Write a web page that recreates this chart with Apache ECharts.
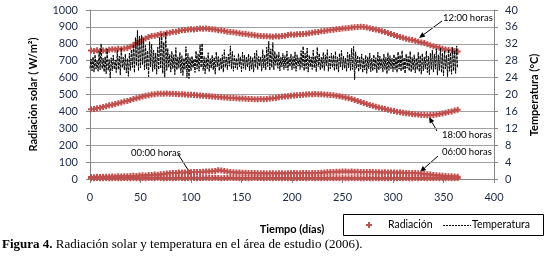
<!DOCTYPE html>
<html>
<head>
<meta charset="utf-8" />
<script src="https://cdn.jsdelivr.net/npm/echarts@6/dist/echarts.min.js"></script>
<title></title>
<style>
    html, body { margin: 0; padding: 0; background: #fff; }
    #main { width: 546px; height: 260px; }
</style>
</head>
<body>
<div id="main"></div>
<script type="text/javascript">
// radiacion (W/m2) leida cada 3 dias, desde el dia 1
var radPaso = 3;
var rad00 = [
    5,4,6,5,5,6,4,5,6,5, 5,6,5,4,6,5,5,6,5,6, 6,5,7,6,5,6,6,5,6,7, 6,5,6,7,6,5,6,6,7,6,
    6,7,6,5,6,6,7,6,6,5, 6,6,5,6,7,6,6,5,6,6, 5,6,6,5,6,5,6,6,5,6, 6,5,6,6,5,6,5,6,5,6,
    5,6,5,6,5,5,6,5,6,5, 5,6,5,5,6,5,6,5,5,6, 5,5,6,5,6,5,5,6,5,6, 6,5,6,5,6,5,6,5,6,5,
    5,6
];
var rad06 = [
    12,11,13,12,14,13,14,15,14,16, 15,17,16,18,19,18,20,22,21,23, 24,26,25,28,30,32,34,35,36,38,
    38,39,40,40,41,42,42,43,44,45, 46,48,52,50,47,44,42,40,39,38, 37,37,36,35,35,34,34,34,33,34,
    34,33,34,34,33,34,34,35,34,34, 35,35,34,35,36,36,37,38,40,41, 42,43,43,44,44,43,44,43,43,42,
    42,41,42,41,40,40,39,40,39,38, 38,37,38,37,36,35,36,35,34,33, 30,28,26,24,22,20,19,18,17,16,
    15,14
];
var rad12 = [
    760,758,762,757,761,759,765,768,766,770, 768,772,775,783,795,803,812,825,832,840,
    846,848,852,858,856,862,866,870,872,876, 880,882,884,886,885,888,890,889,891,888,
    886,884,880,879,876,872,870,868,865,862, 860,858,855,853,850,848,846,845,844,843,
    842,844,843,846,848,852,855,854,856,857, 858,860,863,866,868,870,874,876,879,881,
    883,886,888,890,892,894,896,898,900,901, 899,896,892,888,884,880,875,870,864,858,
    852,846,840,836,830,826,822,818,812,808, 804,798,792,786,781,776,771,767,764,762,
    758,754
];
var rad18 = [
    412,414,418,422,426,430,436,440,444,448, 452,458,462,468,474,478,482,488,492,496,
    500,502,504,505,504,506,505,504,503,502, 501,500,499,498,497,496,494,493,491,490,
    488,487,485,484,482,481,480,479,478,477, 476,475,474,473,472,472,473,472,474,476,
    478,480,483,486,488,490,492,494,496,497, 498,500,501,502,503,502,501,500,499,497,
    495,492,489,486,482,478,473,468,462,456, 450,444,438,433,428,423,418,414,410,406,
    402,398,395,392,389,387,385,383,381,379, 378,377,378,379,381,384,388,392,396,400,
    406,410
];
// temperatura (°C), un valor por dia desde el dia 0
var temperatura = [
    26.2,28.4,25.6,28.9,25.3,29.4,26.0,28.1,25.5,30.2,25.8,32.0,26.1,28.6,25.4,29.0,24.9,30.8,25.7,28.3,
    23.9,28.7,25.6,29.3,26.0,28.2,25.2,30.5,25.9,29.1,24.6,31.0,26.3,28.8,25.8,29.6,25.1,28.5,24.3,29.8,
    25.7,30.6,26.4,31.8,25.2,33.5,26.8,35.2,25.6,33.8,26.3,34.0,27.0,33.2,25.8,31.6,26.1,30.4,24.2,32.5,
    26.5,31.9,25.4,30.5,26.0,29.8,24.8,31.2,25.9,33.6,26.2,34.2,25.0,32.4,24.1,34.8,25.7,30.9,26.4,29.5,
    25.3,30.2,26.1,29.4,24.7,31.1,25.8,28.9,26.2,30.0,25.1,29.2,24.5,28.6,25.9,31.3,24.0,29.7,23.8,28.8,
    25.6,29.1,26.3,28.4,25.2,30.3,26.0,29.6,25.5,31.8,26.4,32.1,25.7,29.0,24.9,28.7,26.1,29.9,25.4,28.5,
    26.2,29.3,25.8,28.8,24.8,30.1,26.5,29.0,25.6,28.6,26.0,29.4,25.3,30.6,26.4,28.9,25.9,29.5,26.7,31.5,
    26.1,30.2,25.5,29.2,26.3,28.6,25.8,29.7,26.6,28.9,25.4,30.0,26.2,29.3,25.9,28.8,26.5,29.6,25.6,29.1,
    26.0,28.7,25.3,29.8,26.4,30.4,25.9,29.0,26.7,28.9,25.5,30.6,26.3,29.4,25.8,31.2,26.6,32.6,25.7,30.8,
    26.4,32.3,25.8,30.2,26.9,29.5,26.2,30.0,25.6,28.9,26.5,29.7,25.9,29.2,26.3,30.3,25.7,28.8,26.6,29.6,
    25.8,29.0,26.2,30.1,25.5,29.4,26.7,28.7,25.9,30.4,26.4,31.4,25.6,29.8,26.1,31.0,25.3,29.3,26.5,28.9,
    25.9,30.5,26.3,29.1,25.4,31.2,26.6,29.7,25.8,28.8,26.2,30.0,25.7,29.4,26.8,30.6,25.5,29.0,26.1,29.8,
    26.4,29.3,25.6,30.2,26.0,28.9,25.3,29.7,26.5,30.4,25.8,29.1,26.2,28.6,25.5,30.0,26.3,29.5,25.7,30.9,
    25.9,31.4,23.5,30.1,26.2,29.2,25.4,28.8,26.0,29.6,25.2,28.5,25.8,29.3,25.0,28.9,26.1,29.8,25.4,28.6,
    25.6,29.4,26.0,28.7,25.1,30.0,25.8,29.1,26.2,28.5,25.3,29.6,25.9,28.8,24.9,29.9,25.7,29.2,26.1,28.6,
    25.4,29.5,25.9,28.9,25.2,30.1,26.0,29.3,25.5,30.4,25.8,28.7,25.0,29.6,26.2,29.0,25.6,30.2,25.3,28.8,
    25.8,29.4,25.1,28.6,25.9,30.0,25.4,29.2,24.8,29.7,25.6,28.9,26.1,30.3,25.2,29.1,24.7,29.8,25.9,30.5,
    25.3,29.6,26.0,30.8,24.6,29.4,25.7,31.0,25.2,29.8,24.4,30.4,26.1,29.3,24.2,30.6,25.5,29.9,24.8,31.2,
    25.6,30.3,25.0,31.5,26.2
];
var etiquetas = [
    { texto: '12:00 horas', x: 443, y: 18, desde: [442, 21], hasta: [419, 38] },
    { texto: '18:00 horas', x: 442, y: 135, desde: [437, 131], hasta: [429, 117] },
    { texto: '06:00 horas', x: 442, y: 152, desde: [438, 156], hasta: [420, 172] },
    { texto: '00:00 horas', x: 131, y: 153, desde: [178, 154], hasta: [192, 176] }
];

var rojo = '#C0504D';
var cruz = 'path://M2,0H4V2H6V4H4V6H2V4H0V2H2Z';
var fuente = 'Lato, "Open Sans", sans-serif';

function radPares(valores) {
    var d = [];
    for (var i = 0; i < valores.length; i++) {
        d.push([1 + i * radPaso, valores[i]]);
    }
    return d;
}
function tempPares() {
    var d = [];
    for (var i = 0; i < temperatura.length; i++) {
        d.push([i, temperatura[i]]);
    }
    return d;
}
function serieRad(valores) {
    return {
        name: 'Radiación',
        type: 'scatter',
        symbol: cruz,
        symbolSize: 6,
        itemStyle: { color: rojo, opacity: 1 },
        data: radPares(valores)
    };
}
// flecha de anotacion: linea + punta
function flecha(a, b) {
    var ang = Math.atan2(b[1] - a[1], b[0] - a[0]);
    var L = 6, W = 2.6;
    var bx = b[0] - L * Math.cos(ang), by = b[1] - L * Math.sin(ang);
    return [
        { type: 'line', silent: true, shape: { x1: a[0], y1: a[1], x2: bx, y2: by }, style: { stroke: '#000', lineWidth: 1 } },
        { type: 'polygon', silent: true, shape: { points: [[b[0], b[1]], [bx + W * Math.sin(ang), by - W * Math.cos(ang)], [bx - W * Math.sin(ang), by + W * Math.cos(ang)]] }, style: { fill: '#000' } }
    ];
}

var graficos = [];
for (var k = 0; k < etiquetas.length; k++) {
    var e = etiquetas[k];
    graficos.push({ type: 'text', silent: true, x: e.x, y: e.y, style: { text: e.texto, font: '9.5px ' + fuente, fill: '#000', verticalAlign: 'middle' } });
    graficos = graficos.concat(flecha(e.desde, e.hasta));
}
// leyenda dibujada a mano (caja, cruz, linea discontinua)
graficos.push(
    { type: 'rect', silent: true, shape: { x: 343.5, y: 214.5, width: 200, height: 21 }, style: { fill: '#fff', stroke: '#000', lineWidth: 1 } },
    { type: 'polygon', silent: true, shape: { points: [[368,222],[370,222],[370,224],[372,224],[372,226],[370,226],[370,228],[368,228],[368,226],[366,226],[366,224],[368,224]] }, style: { fill: rojo } },
    { type: 'text', silent: true, x: 388, y: 225, style: { text: 'Radiación', font: '10.5px ' + fuente, fill: '#000', verticalAlign: 'middle' } },
    { type: 'line', silent: true, shape: { x1: 443, y1: 225.5, x2: 471, y2: 225.5 }, style: { stroke: '#000', lineWidth: 1, lineDash: [2, 1] } },
    { type: 'text', silent: true, x: 472, y: 225, style: { text: 'Temperatura', font: '10.5px ' + fuente, fill: '#000', verticalAlign: 'middle' } }
);
// titulo del eje derecho, leido de abajo hacia arriba
graficos.push({
    type: 'text', silent: true, x: 534, y: 95, rotation: Math.PI / 2,
    style: { text: 'Temperatura (°C)', font: 'bold 11px ' + fuente, fill: '#000', align: 'center', verticalAlign: 'middle' }
});
graficos.push({
    type: 'text', silent: true, x: 2, y: 245,
    style: {
        text: '{b|Figura 4.} Radiación solar y temperatura en el área de estudio (2006).',
        font: '13px "Liberation Serif", serif', fill: '#000', verticalAlign: 'middle',
        rich: { b: { fontWeight: 'bold', fontSize: 13, fontFamily: '"Liberation Serif", serif' } }
    }
});

var ejeGris = '#868686';
var etiqueta = { fontFamily: fuente, fontSize: 11, color: '#1d2a44' };
var titulo = { fontFamily: fuente, fontSize: 11, fontWeight: 'bold', color: '#000' };
function sinComa(v) { return String(v); }

var myChart = echarts.init(document.getElementById('main'));
var option = {
    animation: false,
    grid: { left: 90, right: 52, top: 10, bottom: 81 },
    xAxis: {
        type: 'value', min: 0, max: 400, interval: 50,
        name: 'Tiempo (días)', nameLocation: 'middle', nameGap: 45, nameTextStyle: titulo,
        axisLine: { lineStyle: { color: ejeGris } },
        axisTick: { show: true, length: 4, lineStyle: { color: ejeGris } },
        splitLine: { show: false },
        axisLabel: Object.assign({ margin: 13, formatter: sinComa }, etiqueta)
    },
    yAxis: [
        {
            type: 'value', min: 0, max: 1000, interval: 100,
            name: 'Radiación solar ( W/m²)', nameLocation: 'middle', nameGap: 51, nameRotate: 90, nameTextStyle: titulo,
            axisLine: { show: true, lineStyle: { color: ejeGris } },
            axisTick: { show: true, length: 4, lineStyle: { color: ejeGris } },
            splitLine: { show: true, lineStyle: { color: '#a0a0a0', width: 1 } },
            axisLabel: Object.assign({ margin: 12, formatter: sinComa }, etiqueta)
        },
        {
            type: 'value', min: 0, max: 40, interval: 4, position: 'right',
            axisLine: { show: true, lineStyle: { color: ejeGris } },
            axisTick: { show: true, length: 4, lineStyle: { color: ejeGris } },
            splitLine: { show: false },
            axisLabel: Object.assign({ margin: 11 }, etiqueta)
        }
    ],
    series: [
        serieRad(rad00),
        serieRad(rad06),
        serieRad(rad12),
        serieRad(rad18),
        {
            name: 'Temperatura',
            type: 'line',
            yAxisIndex: 1,
            symbol: 'none',
            showSymbol: false,
            itemStyle: { color: '#000' },
            lineStyle: { color: '#000', width: 1, type: [3, 1] },
            data: tempPares()
        }
    ],
    graphic: graficos
};
myChart.setOption(option);
</script>
</body>
</html>
